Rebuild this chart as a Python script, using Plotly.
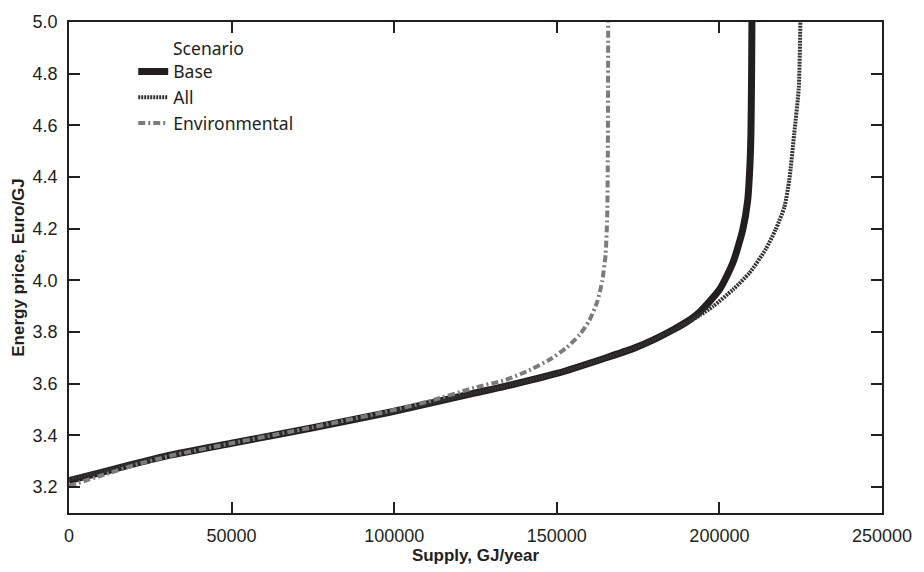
import plotly.graph_objects as go

# Base scenario
base_x = [0, 10000, 20000, 30700, 50000, 75000, 98600, 125000, 134000, 150000, 165000,
          173800, 180000, 185900, 190000, 194100, 200200, 204200, 207200, 208700, 209400,
          209700, 209900, 210000]
base_y = [3.225, 3.257, 3.29, 3.323, 3.37, 3.43, 3.49, 3.565, 3.59, 3.64, 3.70,
          3.738, 3.772, 3.81, 3.84, 3.88, 3.968, 4.07, 4.197, 4.31, 4.45,
          4.57, 4.8, 5.0]

# All scenario
all_x = [0, 10000, 20000, 30700, 50000, 75000, 98600, 125000, 134000, 150000, 165000,
         173800, 180000, 185900, 190000, 194100, 198100, 204200, 209300, 214200, 217300,
         220000, 221500, 223000, 224400, 224900]
all_y = [3.23, 3.26, 3.292, 3.325, 3.37, 3.43, 3.49, 3.565, 3.59, 3.64, 3.70,
         3.738, 3.772, 3.808, 3.836, 3.866, 3.90, 3.965, 4.03, 4.12, 4.197,
         4.285, 4.39, 4.568, 4.744, 5.0]

# Environmental scenario
env_x = [0, 10000, 20000, 30700, 50000, 75000, 98600, 110000, 124800, 134200, 142000,
         148000, 153000, 157000, 160000, 162500, 164000, 165000, 165500, 165700, 165800]
env_y = [3.205, 3.245, 3.285, 3.32, 3.37, 3.432, 3.495, 3.53, 3.585, 3.615, 3.655,
         3.695, 3.74, 3.79, 3.845, 3.92, 4.0, 4.1, 4.25, 4.5, 5.0]

x_ticks = [0, 50000, 100000, 150000, 200000, 250000]
y_ticks = [3.2, 3.4, 3.6, 3.8, 4.0, 4.2, 4.4, 4.6, 4.8, 5.0]

fig = go.Figure()
fig.add_trace(go.Scatter(x=base_x, y=base_y, mode="lines", name="Base",
                         line=dict(color="#231f20", width=7, shape="spline", smoothing=0.6)))
fig.add_trace(go.Scatter(x=all_x, y=all_y, mode="lines", name="All",
                         line=dict(color="#333333", width=4, dash="2px,1px", shape="spline", smoothing=0.6)))
fig.add_trace(go.Scatter(x=env_x, y=env_y, mode="lines", name="Environmental",
                         line=dict(color="#7c7c7c", width=4, dash="7px,3px,2px,3px", shape="spline", smoothing=0.6)))

axis_common = dict(showline=True, linecolor="#231f20", linewidth=1.5, mirror="ticks",
                   ticks="inside", ticklen=11, tickwidth=1.5, tickcolor="#231f20",
                   showgrid=False, zeroline=False,
                   tickfont=dict(family="Liberation Sans", size=18, color="#231f20"))

fig.update_xaxes(range=[0, 250000], tickvals=x_ticks, tickformat="d",
                 title=dict(text="<b>Supply, GJ/year</b>", font=dict(family="Liberation Sans", size=17, color="#231f20"), standoff=2),
                 ticklabelstandoff=6,
                 **axis_common)
fig.update_yaxes(range=[3.1, 5.0], tickvals=y_ticks, tickformat=".1f",
                 title=dict(text="<b>Energy price, Euro/GJ</b>", font=dict(family="Liberation Sans", size=17, color="#231f20"), standoff=4),
                 ticklabelstandoff=6,
                 **axis_common)

fig.update_layout(
    width=924, height=572,
    margin=dict(l=69, r=34, t=20, b=55),
    paper_bgcolor="white", plot_bgcolor="white",
    font=dict(family="Liberation Sans", color="#231f20"),
    showlegend=True,
    legend=dict(x=0.079, y=0.9355, xanchor="left", yanchor="top",
                bgcolor="rgba(0,0,0,0)", borderwidth=0,
                font=dict(family="Noto Sans", size=17.5, color="#231f20"),
                tracegroupgap=0),
    annotations=[dict(text="Scenario", xref="paper", yref="paper", x=0.1255, y=0.9477,
                      xanchor="left", yanchor="middle", showarrow=False,
                      font=dict(family="Noto Sans", size=17.5, color="#231f20"))],
)

# bold tick labels
fig.update_xaxes(tickprefix="<b>", ticksuffix="</b>")
fig.update_yaxes(tickprefix="<b>", ticksuffix="</b>")

fig.write_html("out.html", config={"displayModeBar": False},
               post_script="document.body.style.margin='0';document.body.style.overflow='hidden';")
